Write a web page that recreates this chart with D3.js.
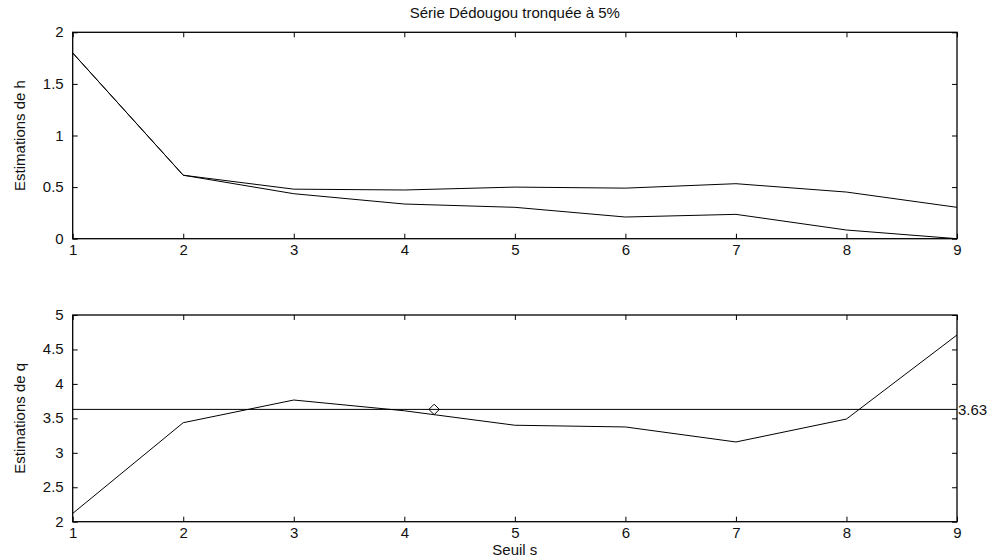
<!DOCTYPE html>
<html><head><meta charset="utf-8">
<script src="https://cdn.jsdelivr.net/npm/d3@7"></script>
<style>body{margin:0;background:#fff}svg{display:block}text{font-family:"Liberation Sans",Arial,sans-serif;fill:#111}</style>
</head><body><div id="c"></div>
<script>
const seuils = [1,2,3,4,5,6,7,8,9];
const hUpper = [1.80,0.615,0.48,0.472,0.50,0.49,0.533,0.452,0.304];
const hLower = [1.80,0.615,0.436,0.336,0.304,0.21,0.236,0.084,0.0];
const qEst = [2.12,3.437,3.766,3.61,3.40,3.375,3.157,3.49,4.71];
const qRef = 3.63;
const qMarker = {s:4.27, q:3.63};
const xTicks = [1,2,3,4,5,6,7,8,9];
const hTicks = [0,0.5,1,1.5,2];
const qTicks = [2,2.5,3,3.5,4,4.5,5];
const title = "Série Dédougou tronquée à 5%";

const W=995,H=559, FS=15;
const svg=d3.select("#c").append("svg").attr("width",W).attr("height",H);
const L=72.7,R=957;
const x=d3.scaleLinear().domain([1,9]).range([L,R]);

function panel(top,bottom,domain,ticks,ylab){
  const y=d3.scaleLinear().domain(domain).range([bottom,top]);
  const g=svg.append("g");
  g.append("g").attr("transform",`translate(0,${bottom})`)
    .call(d3.axisBottom(x).tickValues(xTicks).tickSize(-5).tickPadding(6).tickFormat(d3.format("d")))
    .call(a=>{a.select(".domain").remove();a.selectAll("text").attr("font-size",FS);});
  g.append("g").attr("transform",`translate(0,${top})`)
    .call(d3.axisTop(x).tickValues(xTicks).tickSize(-5).tickFormat(""))
    .call(a=>a.select(".domain").remove());
  g.append("g").attr("transform",`translate(${L},0)`)
    .call(d3.axisLeft(y).tickValues(ticks).tickSize(-5).tickPadding(9).tickFormat(d3.format("")))
    .call(a=>{a.select(".domain").remove();a.selectAll("text").attr("font-size",FS).attr("dy","0.3em");});
  g.append("g").attr("transform",`translate(${R},0)`)
    .call(d3.axisRight(y).tickValues(ticks).tickSize(-5).tickFormat(""))
    .call(a=>a.select(".domain").remove());
  g.selectAll(".tick line").attr("stroke","#000");
  g.append("rect").attr("x",L).attr("y",top).attr("width",R-L).attr("height",bottom-top)
    .attr("fill","none").attr("stroke","#000").attr("stroke-width",1.3);
  g.append("text").attr("transform",`translate(25,${(top+bottom)/2}) rotate(-90)`)
    .attr("text-anchor","middle").attr("font-size",FS).text(ylab);
  return y;
}

const yh=panel(32.3,238.7,[0,2],hTicks,"Estimations de h");
const yq=panel(315,521.7,[2,5],qTicks,"Estimations de q");

const lh1=d3.line().x((d,i)=>x(seuils[i])).y(d=>yh(d));
svg.append("path").datum(hUpper).attr("d",lh1).attr("fill","none").attr("stroke","#000").attr("stroke-width",1);
svg.append("path").datum(hLower).attr("d",lh1).attr("fill","none").attr("stroke","#000").attr("stroke-width",1);
const lq=d3.line().x((d,i)=>x(seuils[i])).y(d=>yq(d));
svg.append("path").datum(qEst).attr("d",lq).attr("fill","none").attr("stroke","#000").attr("stroke-width",1);
svg.append("line").attr("x1",x(1)).attr("x2",x(9)).attr("y1",yq(qRef)).attr("y2",yq(qRef)).attr("stroke","#000");
svg.append("path").attr("d",d3.symbol(d3.symbolDiamond2,70)())
  .attr("transform",`translate(${x(qMarker.s)},${yq(qMarker.q)})`).attr("fill","none").attr("stroke","#000");
svg.append("text").attr("x",R+1).attr("y",yq(qRef)).attr("dy","0.35em").attr("font-size",FS).text(qRef.toFixed(2));

svg.append("text").attr("x",(L+R)/2).attr("y",18).attr("text-anchor","middle").attr("font-size",FS).text(title);
svg.append("text").attr("x",(L+R)/2).attr("y",555).attr("text-anchor","middle").attr("font-size",FS).text("Seuil s");
</script></body></html>
